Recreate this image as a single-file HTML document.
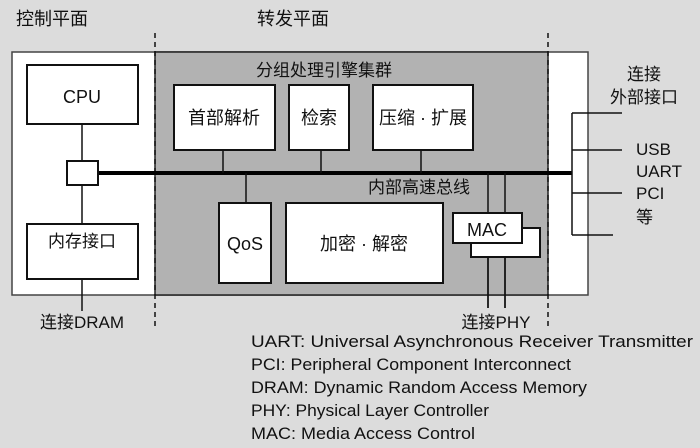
<!DOCTYPE html>
<html><head><meta charset="utf-8"><style>
html,body{margin:0;padding:0;background:#dcdcdc}
svg{display:block}
text{font-family:"Liberation Sans","Noto Sans CJK SC",sans-serif;fill:#111}
</style></head><body>
<svg width="700" height="448" viewBox="0 0 700 448" xmlns="http://www.w3.org/2000/svg">
<rect x="0" y="0" width="700" height="448" fill="#dcdcdc"/>
<rect x="12" y="52" width="576" height="243" fill="#fff" stroke="#444" stroke-width="1.5"/>
<rect x="155" y="52" width="393" height="243" fill="#b2b2b2" stroke="#222" stroke-width="1.5"/>
<line x1="155" y1="33" x2="155" y2="326" stroke="#111" stroke-width="1.5" stroke-dasharray="5,4"/>
<line x1="548" y1="33" x2="548" y2="326" stroke="#111" stroke-width="1.5" stroke-dasharray="5,4"/>
<text x="16" y="25" font-size="18">控制平面</text>
<text x="257" y="25" font-size="18">转发平面</text>
<text x="256" y="76" font-size="17">分组处理引擎集群</text>
<!-- left column -->
<line x1="82" y1="124" x2="82" y2="311" stroke="#111" stroke-width="1.5"/>
<rect x="27" y="65" width="111" height="59" fill="#fff" stroke="#111" stroke-width="2"/>
<text x="82" y="103" font-size="18" text-anchor="middle">CPU</text>
<rect x="27" y="224" width="111" height="55" fill="#fff" stroke="#111" stroke-width="2"/>
<text x="82" y="247" font-size="17" text-anchor="middle">内存接口</text>
<text x="82" y="328" font-size="17" text-anchor="middle">连接DRAM</text>
<!-- bus -->
<line x1="98" y1="173" x2="572" y2="173" stroke="#000" stroke-width="4"/>
<rect x="67" y="161" width="31" height="24" fill="#fff" stroke="#111" stroke-width="2"/>
<!-- connectors -->
<line x1="223" y1="150" x2="223" y2="173" stroke="#111" stroke-width="1.5"/>
<line x1="321" y1="150" x2="321" y2="173" stroke="#111" stroke-width="1.5"/>
<line x1="421" y1="150" x2="421" y2="173" stroke="#111" stroke-width="1.5"/>
<line x1="246" y1="173" x2="246" y2="203" stroke="#111" stroke-width="1.5"/>
<line x1="488" y1="173" x2="488" y2="308" stroke="#111" stroke-width="1.5"/>
<line x1="505" y1="173" x2="505" y2="308" stroke="#111" stroke-width="1.5"/>
<!-- boxes -->
<rect x="174" y="85" width="101" height="65" fill="#fff" stroke="#111" stroke-width="2"/>
<text x="224" y="124" font-size="18" text-anchor="middle">首部解析</text>
<rect x="289" y="85" width="60" height="65" fill="#fff" stroke="#111" stroke-width="2"/>
<text x="319" y="124" font-size="18" text-anchor="middle">检索</text>
<rect x="373" y="85" width="100" height="65" fill="#fff" stroke="#111" stroke-width="2"/>
<text x="423" y="124" font-size="18" text-anchor="middle">压缩 · 扩展</text>
<text x="368" y="193" font-size="17">内部高速总线</text>
<rect x="219" y="203" width="52" height="80" fill="#fff" stroke="#111" stroke-width="2"/>
<text x="245" y="250" font-size="18" text-anchor="middle">QoS</text>
<rect x="286" y="203" width="157" height="80" fill="#fff" stroke="#111" stroke-width="2"/>
<text x="364" y="250" font-size="18" text-anchor="middle">加密 · 解密</text>
<rect x="471" y="228" width="69" height="29" fill="#fff" stroke="#111" stroke-width="2"/>
<rect x="453" y="213" width="69" height="30" fill="#fff" stroke="#111" stroke-width="2"/>
<text x="487" y="236" font-size="18" text-anchor="middle">MAC</text>
<line x1="488" y1="257" x2="488" y2="308" stroke="#111" stroke-width="1.5"/>
<line x1="505" y1="257" x2="505" y2="308" stroke="#111" stroke-width="1.5"/>
<text x="496" y="328" font-size="17" text-anchor="middle">连接PHY</text>
<!-- right -->
<line x1="572" y1="113" x2="572" y2="235" stroke="#111" stroke-width="1.5"/>
<line x1="572" y1="113" x2="622" y2="113" stroke="#111" stroke-width="1.5"/>
<line x1="572" y1="150" x2="622" y2="150" stroke="#111" stroke-width="1.5"/>
<line x1="572" y1="193" x2="622" y2="193" stroke="#111" stroke-width="1.5"/>
<line x1="572" y1="235" x2="613" y2="235" stroke="#111" stroke-width="1.5"/>
<text x="644" y="80" font-size="17" text-anchor="middle">连接</text>
<text x="644" y="103" font-size="17" text-anchor="middle">外部接口</text>
<text x="636" y="155" font-size="17">USB</text>
<text x="636" y="177" font-size="17">UART</text>
<text x="636" y="199" font-size="17">PCI</text>
<text x="636" y="223" font-size="17">等</text>
<!-- legend -->
<g font-size="17">
<text x="251" y="347" textLength="442" lengthAdjust="spacingAndGlyphs">UART: Universal Asynchronous Receiver Transmitter</text>
<text x="251" y="370" textLength="320" lengthAdjust="spacingAndGlyphs">PCI: Peripheral Component Interconnect</text>
<text x="251" y="393" textLength="336" lengthAdjust="spacingAndGlyphs">DRAM: Dynamic Random Access Memory</text>
<text x="251" y="416" textLength="238" lengthAdjust="spacingAndGlyphs">PHY: Physical Layer Controller</text>
<text x="251" y="439" textLength="224" lengthAdjust="spacingAndGlyphs">MAC: Media Access Control</text>
</g>
</svg>
</body></html>
